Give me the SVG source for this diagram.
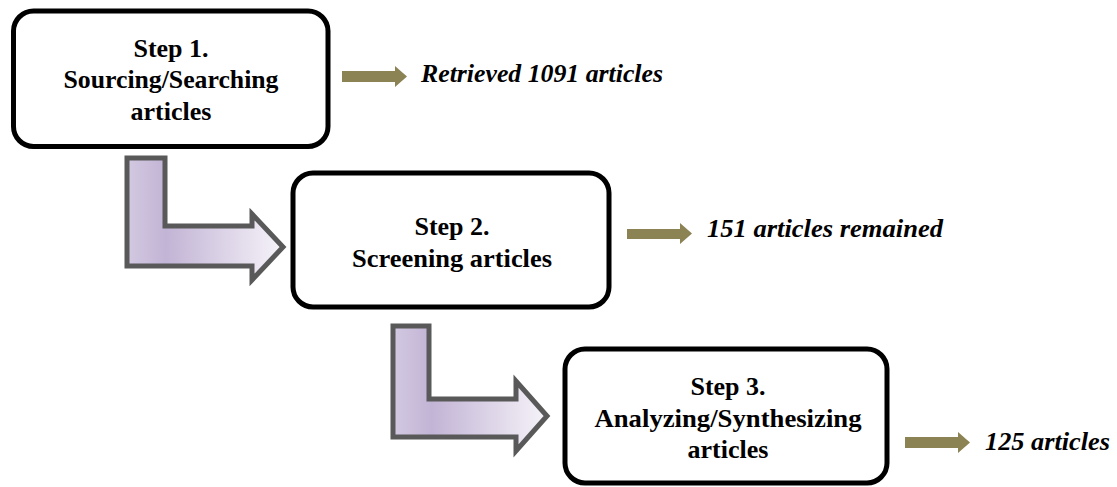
<svg xmlns="http://www.w3.org/2000/svg" width="1117" height="487" viewBox="0 0 1117 487">
<defs>
<linearGradient id="g1" x1="0" y1="0" x2="1" y2="0">
<stop offset="0" stop-color="#d3c9e1"/>
<stop offset="0.25" stop-color="#c2b4d5"/>
<stop offset="1" stop-color="#f6f3f9"/>
</linearGradient>
<style>
.box{fill:#fff;stroke:#000;stroke-width:5}
.bent{fill:url(#g1);stroke:#595959;stroke-width:5;stroke-linejoin:miter}
.sm{fill:#8c8354}
.t{font-weight:bold;font-size:26px;fill:#000;text-anchor:middle}
.it{font-weight:bold;font-style:italic;font-size:26px;fill:#000}
</style>
</defs>
<g id="connectors">
<path class="bent" d="M127,158 H165 V226 H252 V214 L283,247 L252,280 V266 H127 Z"/>
<path class="bent" d="M393,326 H429 V399 H516 V381 L547,416 L516,451 V437 H393 Z"/>
<path class="sm" d="M342,71 H395 V66 L407,76.5 L395,87 V82 H342 Z"/>
<path class="sm" d="M627,229 H680 V223 L692,233.5 L680,244 V239 H627 Z"/>
<path class="sm" d="M905,437 H958 V432 L970,442.5 L958,453 V448 H905 Z"/>
</g>
<g id="step1" font-family="Liberation Serif, serif">
<rect class="box" x="13.5" y="11" width="314.5" height="135.5" rx="20"/>
<text class="t" x="171" y="57">Step 1.</text>
<text class="t" x="171" y="88" textLength="215" lengthAdjust="spacingAndGlyphs">Sourcing/Searching</text>
<text class="t" x="171" y="120">articles</text>
</g>
<g id="step2" font-family="Liberation Serif, serif">
<rect class="box" x="293" y="173" width="316" height="134" rx="20"/>
<text class="t" x="452" y="235">Step 2.</text>
<text class="t" x="452" y="267" textLength="200" lengthAdjust="spacingAndGlyphs">Screening articles</text>
</g>
<g id="step3" font-family="Liberation Serif, serif">
<rect class="box" x="565" y="349" width="322" height="134" rx="20"/>
<text class="t" x="728" y="395">Step 3.</text>
<text class="t" x="728" y="427" textLength="267" lengthAdjust="spacingAndGlyphs">Analyzing/Synthesizing</text>
<text class="t" x="728" y="458">articles</text>
</g>
<g id="labels" font-family="Liberation Serif, serif">
<text class="it" x="421" y="82" textLength="242" lengthAdjust="spacingAndGlyphs">Retrieved 1091 articles</text>
<text class="it" x="707" y="237" textLength="236" lengthAdjust="spacingAndGlyphs">151 articles remained</text>
<text class="it" x="985" y="450" textLength="125" lengthAdjust="spacingAndGlyphs">125 articles</text>
</g>
</svg>
